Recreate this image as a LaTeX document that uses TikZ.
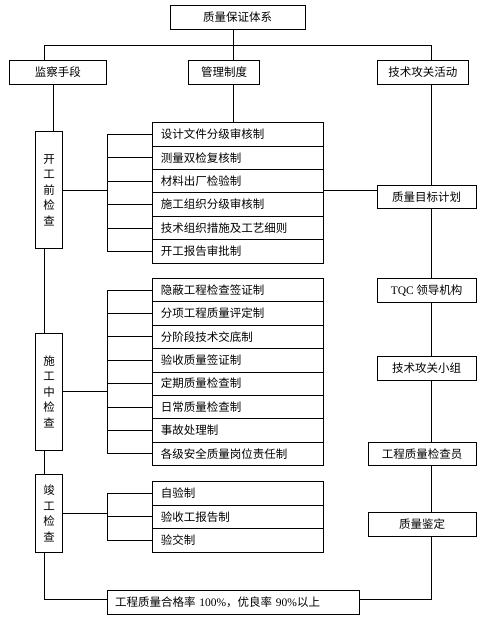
\documentclass[tikz,border=0pt]{standalone}
\usepackage{fontspec}
\setmainfont{Liberation Serif}
\newfontfamily\cjk{Noto Sans CJK SC}
\begin{document}
\begin{tikzpicture}[x=1pt, y=-1pt, line width=0.8pt,
  box/.style={draw, fill=white, inner sep=0pt, minimum height=23.4pt,
    font=\cjk\fontsize{11.5}{14}\selectfont},
  rowbox/.style={box, text width=154pt, inner xsep=8.5pt, align=left},
  vbox/.style={box, minimum width=26.7pt, align=center,
    font=\cjk\fontsize{11.5}{15.5}\selectfont}]
  \useasboundingbox (0,0) rectangle (487,628);
  \coordinate (lx) at (44.3,0);
  \coordinate (jx) at (53.3,0);
  \coordinate (bx) at (107.3,0);
  \coordinate (mx) at (233.3,0);
  \coordinate (rx) at (431.7,0);
  \coordinate (ty) at (0,45.7);

  \node[box, minimum width=135pt, minimum height=24pt] (sys) at (237.7,17.5) {质量保证体系};
  \node[box, minimum width=97.7pt] (jc) at (57.8,72.3) {监察手段};
  \node[box, minimum width=70.7pt] (gl) at (224,72.3) {管理制度};
  \node[box, minimum width=91pt]   (js) at (422.8,72.3) {技术攻关活动};

  \node[vbox, minimum height=116.3pt] (kg) at (49,190) {开\\工\\前\\检\\查};
  \node[vbox, minimum height=116.7pt] (sg) at (49,391.7) {施\\工\\中\\检\\查};
  \node[vbox, minimum height=78pt]    (jg) at (49,513.3) {竣\\工\\检\\查};

  \foreach \t [count=\i] in {设计文件分级审核制, 测量双检复核制, 材料出厂检验制,
      施工组织分级审核制, 技术组织措施及工艺细则, 开工报告审批制}
    \node[rowbox] (a\i) at (237.8,{122.7+23.4*(\i-0.5)}) {\t};
  \foreach \t [count=\i] in {隐蔽工程检查签证制, 分项工程质量评定制, 分阶段技术交底制,
      验收质量签证制, 定期质量检查制, 日常质量检查制, 事故处理制, 各级安全质量岗位责任制}
    \node[rowbox] (b\i) at (237.8,{278.3+23.4*(\i-0.5)}) {\t};
  \foreach \t [count=\i] in {自验制, 验收工报告制, 验交制}
    \node[rowbox] (c\i) at (237.8,{481.7+23.4*(\i-0.5)}) {\t};

  \node[box, minimum width=98.7pt, minimum height=22.7pt] (mb)  at (426.7,197) {质量目标计划};
  \node[box, minimum width=98.7pt, minimum height=24pt]   (tqc) at (426.7,290.3) {{\rmfamily TQC} 领导机构};
  \node[box, minimum width=98.7pt, minimum height=23.7pt] (xz)  at (426.7,368.5) {技术攻关小组};
  \node[box, minimum width=107.7pt, minimum height=22.7pt] (jcy) at (422.2,453.7) {工程质量检查员};
  \node[box, minimum width=107.7pt, minimum height=24pt]  (jd)  at (422.2,524.3) {质量鉴定};

  \node[box, text width=236.6pt, inner xsep=7.7pt, align=left, minimum height=23.6pt] (bt)
    at (233.3,602.5) {工程质量合格率 {\rmfamily 100\%}，优良率 {\rmfamily 90\%}以上};

  \draw (mx |- sys.south) -- (mx |- gl.north);
  \draw (lx |- jc.north) |- (rx |- ty) -- (rx |- js.north);
  \draw (mx |- gl.south) -- (mx |- a1.north);
  \draw (jx |- jc.south) -- (jx |- kg.north);
  \draw (lx |- kg.south) -- (lx |- sg.north);
  \draw (lx |- sg.south) -- (lx |- jg.north);
  \draw (lx |- jg.south) |- ([yshift=3.5pt]bt.west);

  \foreach \i in {1,...,6} \draw (a\i.west) -- (a\i.west -| bx);
  \foreach \i in {1,...,8} \draw (b\i.west) -- (b\i.west -| bx);
  \foreach \i in {1,...,3} \draw (c\i.west) -- (c\i.west -| bx);
  \draw (a1.west -| bx) -- (a6.west -| bx);
  \draw (b1.west -| bx) -- (b8.west -| bx);
  \draw (c1.west -| bx) -- (c3.west -| bx);
  \draw (kg.east) -- (kg.east -| bx);
  \draw (sg.east) -- (sg.east -| bx);
  \draw (jg.east) -- (jg.east -| bx);

  \draw (a3.east |- kg.east) -- (mb.west |- kg.east);
  \foreach \u/\v in {js/mb, mb/tqc, tqc/xz, xz/jcy, jcy/jd}
    \draw (rx |- \u.south) -- (rx |- \v.north);
  \draw (rx |- jd.south) |- ([yshift=3.5pt]bt.east);
\end{tikzpicture}
\end{document}
